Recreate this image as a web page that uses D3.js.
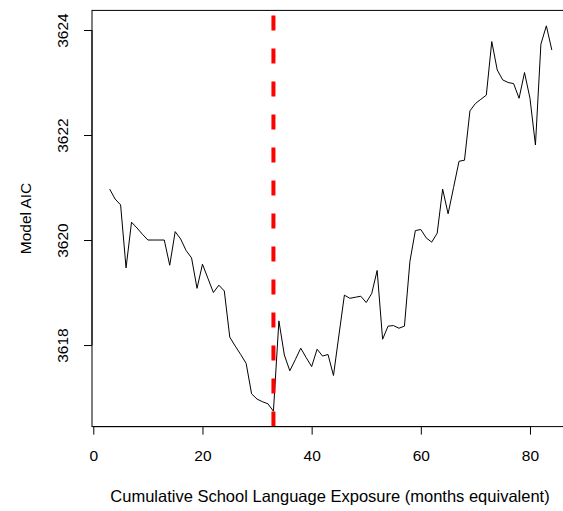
<!DOCTYPE html>
<html>
<head>
<meta charset="utf-8">
<script src="https://cdn.jsdelivr.net/npm/d3@7"></script>
<style>
  html, body { margin: 0; padding: 0; background: #fff; }
  svg { display: block; }
  text { font-family: "Liberation Sans", Arial, Helvetica, sans-serif; fill: #000; }
</style>
</head>
<body>
<svg id="chart" width="563" height="511"></svg>
<script>
// Data
const months = [3,4,5,6,7,8,9,10,11,12,13,14,15,16,17,18,19,20,21,22,23,24,25,26,27,28,29,30,31,32,33,34,35,36,37,38,39,40,41,42,43,44,45,46,47,48,49,50,51,52,53,54,55,56,57,58,59,60,61,62,63,64,65,66,67,68,69,70,71,72,73,74,75,76,77,78,79,80,81,82,83,84];
const aic = [3620.97,3620.78,3620.67,3619.47,3620.34,3620.23,3620.11,3620.00,3620.00,3620.00,
  3620.00,3619.52,3620.16,3620.02,3619.80,3619.66,3619.08,3619.54,3619.27,3619.00,
  3619.14,3619.03,3618.15,3617.98,3617.82,3617.65,3617.07,3616.97,3616.92,3616.88,
  3616.74,3618.46,3617.81,3617.51,3617.72,3617.94,3617.76,3617.59,3617.92,3617.79,
  3617.82,3617.42,3618.19,3618.95,3618.89,3618.91,3618.93,3618.81,3618.98,3619.42,
  3618.11,3618.36,3618.37,3618.32,3618.36,3619.59,3620.18,3620.20,3620.04,3619.96,
  3620.13,3620.97,3620.50,3621.00,3621.50,3621.52,3622.46,3622.60,3622.68,3622.76,
  3623.78,3623.24,3623.05,3623.00,3622.98,3622.70,3623.19,3622.70,3621.81,3623.73,
  3624.08,3623.62];
const cutoff = 33;
const xTicks = [0,20,40,60,80];
const yTicks = [3618,3620,3622,3624];
const xLabel = "Cumulative School Language Exposure (months equivalent)";
const yLabel = "Model AIC";

const svg = d3.select("#chart");
const pLeft = 92.0, pRight = 569.5, pTop = 10.4, pBottom = 426.6;

function pad(ext) { const r = ext[1]-ext[0]; return [ext[0]-0.04*r, ext[1]+0.04*r]; }
const x = d3.scaleLinear().domain(pad(d3.extent(months))).range([pLeft, pRight]);
const y = d3.scaleLinear().domain(pad(d3.extent(aic))).range([pBottom, pTop]);

const data = months.map((m,i) => ({m, v: aic[i]}));

svg.append("defs").append("clipPath").attr("id","clip")
  .append("rect").attr("x", pLeft).attr("y", pTop).attr("width", pRight-pLeft).attr("height", pBottom-pTop);

svg.append("path")
  .datum(data)
  .attr("clip-path","url(#clip)")
  .attr("fill","none")
  .attr("stroke","#000")
  .attr("stroke-width",1)
  .attr("stroke-linejoin","round")
  .attr("d", d3.line().x(d => x(d.m)).y(d => y(d.v)));

svg.append("line")
  .attr("x1", x(cutoff)).attr("x2", x(cutoff))
  .attr("y1", pBottom).attr("y2", pTop)
  .attr("stroke", "#ff0000")
  .attr("stroke-width", 4)
  .attr("stroke-dasharray", "15,18");

svg.append("rect")
  .attr("x", pLeft).attr("y", pTop).attr("width", pRight-pLeft).attr("height", pBottom-pTop)
  .attr("fill","none").attr("stroke","#000").attr("stroke-width",1);

const xAxis = svg.append("g").attr("transform", `translate(0,${pBottom})`)
  .call(d3.axisBottom(x).tickValues(xTicks).tickSize(8).tickPadding(15).tickFormat(d3.format("d")));
xAxis.select(".domain").attr("d", `M${x(xTicks[0])},0H${x(xTicks[xTicks.length-1])}`);
xAxis.selectAll("text").attr("font-size", 15.5).style("font-family", '"Liberation Sans", Arial, sans-serif');

const yAxis = svg.append("g").attr("transform", `translate(${pLeft},0)`)
  .call(d3.axisLeft(y).tickValues(yTicks).tickSize(8).tickFormat(d3.format("d")));
yAxis.select(".domain").attr("d", `M0,${y(yTicks[0])}V${y(yTicks[yTicks.length-1])}`);
yAxis.selectAll(".tick text")
  .attr("font-size", 15.5)
  .style("font-family", '"Liberation Sans", Arial, sans-serif')
  .attr("x", null).attr("dy", null)
  .attr("text-anchor","middle")
  .attr("transform", "translate(-24,0) rotate(-90)");

svg.append("text")
  .attr("x", 330).attr("y", 502)
  .attr("text-anchor","middle").attr("font-size", 16.5)
  .text(xLabel);
svg.append("text")
  .attr("transform", `translate(31,${(pTop+pBottom)/2}) rotate(-90)`)
  .attr("text-anchor","middle").attr("font-size", 15.5)
  .text(yLabel);
</script>
</body>
</html>
